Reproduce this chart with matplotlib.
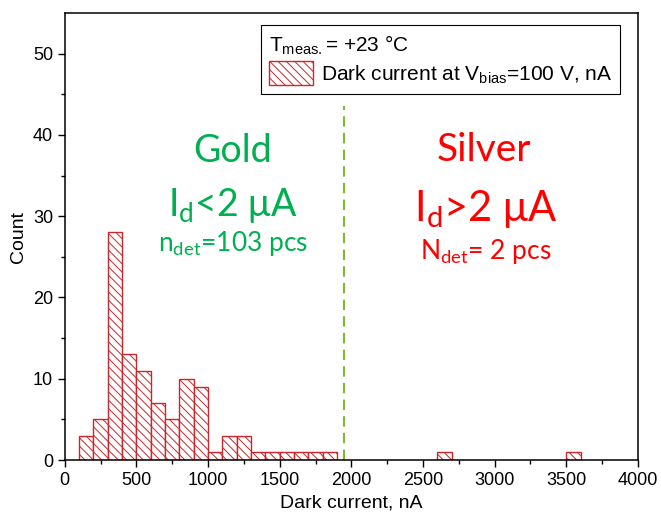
import matplotlib

matplotlib.use("Agg")
import matplotlib.pyplot as plt  # noqa: E402
from matplotlib.patches import Patch  # noqa: E402

# histogram of dark current, bins of 100 nA (left edges)
bin_left = [100, 200, 300, 400, 500, 600, 700, 800, 900, 1000,
            1100, 1200, 1300, 1400, 1500, 1600, 1700, 1800, 2600, 3500]
counts = [3, 5, 28, 13, 11, 7, 5, 10, 9, 1,
          3, 3, 1, 1, 1, 1, 1, 1, 1, 1]
bin_width = 100
threshold = 1950

x_ticks = [0, 500, 1000, 1500, 2000, 2500, 3000, 3500, 4000]
y_ticks = [0, 10, 20, 30, 40, 50]

GREEN = "#00b050"
RED = "#ff0000"
BAR_EDGE = "#c8282d"
HATCH = "\\\\\\\\"

plt.rcParams["font.family"] = ["Liberation Sans", "DejaVu Sans"]
plt.rcParams["mathtext.fontset"] = "custom"
plt.rcParams["mathtext.rm"] = "Liberation Sans"
plt.rcParams["hatch.linewidth"] = 0.7

fig = plt.figure(figsize=(6.61, 5.21), dpi=100)
ax = fig.add_axes([0.098, 0.117, 0.867, 0.858])

ax.bar(bin_left, counts, width=bin_width, align="edge", color="white",
       edgecolor=BAR_EDGE, hatch=HATCH, linewidth=1.0)

ax.vlines(threshold, 0, 43.6, colors="#7dbb2e", linestyles=(0, (5, 3)), linewidth=1.5)

ax.set_xlim(0, 4000)
ax.set_ylim(0, 55)
ax.set_xticks(x_ticks)
ax.set_yticks(y_ticks)
ax.set_xticks(range(250, 4000, 500), minor=True)
ax.set_yticks(range(5, 55, 10), minor=True)
ax.tick_params(which="major", direction="out", length=5, width=1, labelsize=13)
ax.tick_params(which="minor", direction="out", length=3, width=1)
for sp in ax.spines.values():
    sp.set_linewidth(1.1)

ax.set_xlabel("Dark current, nA", fontsize=14)
ax.set_ylabel("Count", fontsize=14)

handle = Patch(facecolor="white", edgecolor=BAR_EDGE, hatch=HATCH, linewidth=1.0)
leg = ax.legend([handle], [r"Dark current at V$_{\mathrm{bias}}$=100 V, nA"],
                title=r"T$_{\mathrm{meas.}}$= +23 °C", alignment="left",
                loc="upper right", bbox_to_anchor=(0.969, 0.973),
                fontsize=15, title_fontsize=15, fancybox=False,
                edgecolor="black", framealpha=1, handlelength=2.1,
                handleheight=1.4, handletextpad=0.35, borderpad=0.4,
                labelspacing=0.2, borderaxespad=0.0)
leg.get_frame().set_linewidth(0.8)

txt = dict(family="Lato", ha="center", va="center")
ax.text(1172, 38.0, "Gold", color=GREEN, fontsize=27, **txt)
ax.text(1172, 31.3, r"I$_{\mathdefault{d}}$<2 μA", color=GREEN, fontsize=27, **txt)
ax.text(1172, 26.6, r"n$_{\mathdefault{det}}$=103 pcs", color=GREEN, fontsize=19, **txt)
ax.text(2925, 38.2, "Silver", color=RED, fontsize=28, **txt)
ax.text(2940, 30.9, r"I$_{\mathdefault{d}}$>2 μA", color=RED, fontsize=30, **txt)
ax.text(2940, 25.6, r"N$_{\mathdefault{det}}$= 2 pcs", color=RED, fontsize=19, **txt)

fig.savefig("out.png", dpi=100)
